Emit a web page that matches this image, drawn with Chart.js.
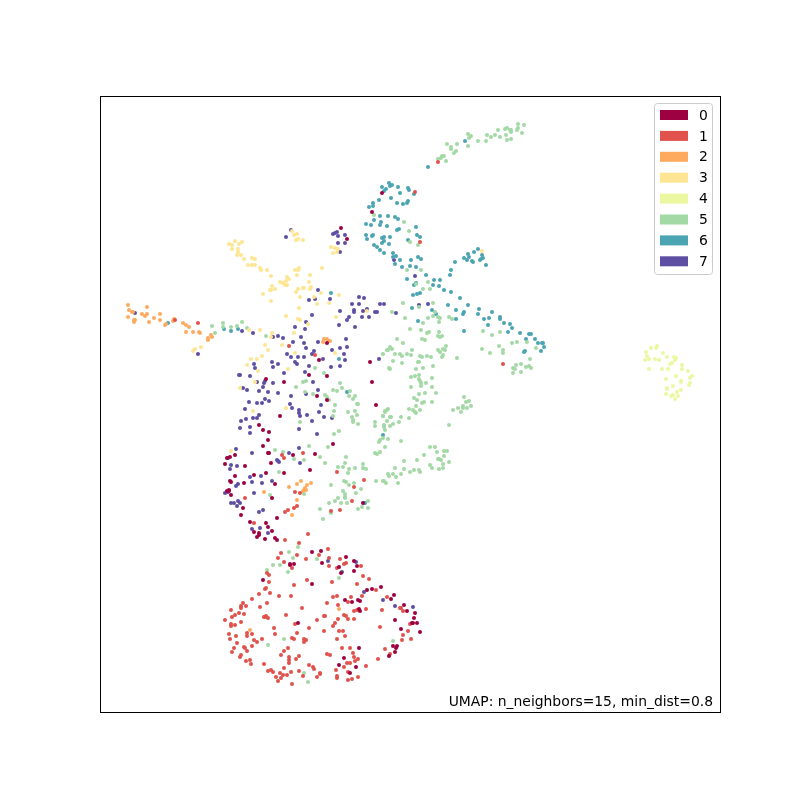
<!DOCTYPE html>
<html>
<head>
<meta charset="utf-8">
<title>UMAP</title>
<script src="https://cdn.jsdelivr.net/npm/chart.js@4"></script>
<style>
  body { margin: 0; background: #fff; }
  canvas { display: block; }
</style>
</head>
<body>
<canvas id="umapChart" width="800" height="800"></canvas>
<script>
// values, in arbitrary embedding units (x 0-620, y 0-616)
const categories = ["0", "1", "2", "3", "4", "5", "6", "7"];
const colors = ["#9e0142", "#e0524b", "#fdaa5f", "#fee593", "#ecf7a2", "#a2d9a4", "#4aa4b2", "#5e4fa2"];
const note = "UMAP: n_neighbors=15, min_dist=0.8";

const cluster0 = [[241,484],[247,473],[282,519],[272,500],[227,369],[219,352],[270,350],[209,337],[227,336],[166,333],[184,330],[272,330],[217,316],[227,312],[276,307],[180,296],[159,287],[163,282],[169,280],[168,272],[163,266],[233,268],[169,259],[168,259],[193,257],[215,258],[135,257],[130,255],[127,254],[125,248],[145,246],[171,249],[166,239],[154,237],[135,236],[184,239],[210,242],[130,231],[131,230],[144,229],[175,228],[129,222],[127,221],[129,221],[131,217],[172,214],[143,204],[141,197],[150,190],[177,194],[166,189],[168,185],[172,181],[154,180],[159,179],[159,177],[157,175],[165,173],[175,174],[177,172],[212,160],[221,161],[246,155],[263,209],[190,148],[194,148],[190,147],[222,149],[163,132],[212,128],[198,89],[254,151],[257,146],[239,145],[241,139],[254,141],[281,125],[272,123],[267,122],[294,117],[291,113],[304,107],[245,112],[252,110],[258,112],[260,111],[259,103],[260,101],[307,101],[315,99],[314,94],[295,92],[312,89],[313,89],[317,89],[301,83],[320,80],[259,64],[293,66],[297,66],[296,64],[295,60],[289,56],[244,54],[239,47],[256,45],[250,39]];

const cluster1 = [[338,550],[315,520],[320,470],[403,348],[75,392],[98,389],[189,366],[215,357],[182,257],[203,259],[184,254],[237,240],[264,232],[254,225],[195,220],[200,219],[145,214],[252,211],[197,206],[194,204],[188,202],[185,200],[240,202],[231,201],[154,189],[208,178],[185,172],[199,169],[181,159],[197,157],[228,163],[219,157],[178,154],[206,153],[229,154],[240,153],[184,150],[192,144],[167,139],[169,137],[169,130],[194,127],[207,132],[166,124],[165,123],[170,119],[159,118],[179,116],[191,116],[152,113],[143,109],[141,106],[167,109],[146,106],[160,105],[202,104],[141,104],[131,102],[139,99],[144,98],[135,97],[132,95],[125,92],[141,90],[164,95],[166,96],[168,94],[165,95],[186,97],[217,92],[224,96],[131,88],[131,86],[135,87],[195,88],[174,84],[209,84],[197,79],[224,81],[147,79],[152,78],[175,78],[129,78],[136,76],[147,76],[130,73],[162,73],[154,72],[157,70],[192,74],[194,73],[204,73],[206,72],[204,70],[137,69],[152,66],[144,65],[145,64],[147,61],[134,64],[132,60],[141,57],[140,55],[188,64],[184,61],[181,57],[199,56],[189,55],[196,53],[189,52],[189,49],[146,51],[150,52],[151,48],[164,48],[209,47],[213,45],[214,43],[184,44],[168,41],[171,42],[173,40],[180,39],[191,40],[199,41],[183,37],[187,37],[176,35],[181,34],[178,31],[203,36],[220,39],[220,38],[217,35],[192,28],[244,148],[246,149],[229,146],[237,144],[261,146],[263,136],[269,133],[232,130],[257,128],[276,122],[262,116],[237,116],[233,115],[251,115],[227,109],[238,107],[287,115],[248,110],[282,102],[300,104],[301,104],[303,101],[254,101],[257,102],[266,103],[244,97],[246,96],[225,96],[238,93],[248,93],[254,93],[235,89],[233,86],[280,85],[310,88],[239,81],[243,81],[308,81],[303,77],[237,73],[245,76],[302,72],[311,73],[242,64],[250,64],[285,63],[227,58],[230,57],[253,59],[254,55],[258,53],[290,58],[278,53],[255,51],[247,49],[250,49],[266,46],[236,42],[244,45],[248,40],[237,36],[237,34],[258,35],[248,32],[252,33]];

const cluster2 = [[28,407],[29,402],[32,400],[33,400],[47,405],[42,398],[47,398],[45,396],[28,395],[35,392],[34,392],[34,390],[49,390],[54,394],[60,398],[60,392],[66,388],[65,387],[73,391],[74,393],[83,389],[86,387],[89,385],[86,380],[93,380],[99,380],[100,379],[111,377],[112,375],[108,374],[108,372],[224,373],[227,373],[223,370],[228,371],[230,371],[201,231],[197,228],[189,225],[211,229],[207,227],[205,224],[203,221],[206,222],[204,222],[164,220],[197,212],[192,197],[150,82],[239,103]];

const cluster3 = [[95,363],[93,361],[101,365],[192,481],[194,477],[197,478],[198,473],[196,472],[203,472],[135,471],[129,468],[132,467],[139,468],[142,470],[132,463],[138,463],[138,460],[137,457],[141,457],[144,453],[152,454],[155,453],[148,447],[152,447],[155,447],[160,444],[161,442],[167,442],[171,436],[195,442],[198,442],[199,444],[197,437],[210,437],[222,444],[187,435],[189,433],[186,431],[180,430],[183,429],[172,426],[185,427],[187,427],[209,430],[211,425],[210,423],[198,423],[203,424],[204,424],[196,420],[175,423],[170,422],[171,422],[163,418],[171,411],[200,415],[214,415],[221,419],[239,417],[217,408],[229,409],[199,404],[186,396],[198,393],[200,392],[236,395],[208,388],[160,382],[172,379],[171,375],[194,379],[165,367],[182,367],[149,382],[231,465],[235,464],[238,463],[233,459],[237,460],[168,362],[162,356],[157,353],[151,353],[147,347],[158,341],[188,343],[195,359],[235,359],[155,330],[140,324],[186,304],[153,301],[131,261],[382,461],[267,401]];

const cluster4 = [[557,366],[556,364],[551,364],[546,360],[547,356],[549,353],[545,352],[549,343],[555,353],[559,352],[563,359],[567,355],[574,355],[576,354],[575,352],[572,349],[570,348],[562,343],[568,343],[582,347],[582,343],[588,341],[592,336],[590,334],[576,336],[566,333],[581,331],[581,330],[590,329],[589,327],[573,326],[567,324],[567,323],[581,322],[577,320],[566,318],[571,316],[573,317],[578,316],[575,313]];

const cluster5 = [[112,386],[115,379],[123,389],[123,385],[131,385],[137,386],[142,390],[147,384],[166,376],[283,358],[287,362],[215,344],[224,339],[203,330],[206,331],[196,325],[205,320],[213,318],[225,317],[227,315],[240,329],[242,324],[233,322],[237,321],[250,321],[249,316],[255,316],[253,313],[257,308],[258,308],[229,312],[235,307],[234,301],[248,300],[255,301],[257,297],[233,296],[252,295],[253,292],[258,288],[253,290],[200,290],[239,281],[234,278],[209,266],[228,265],[275,290],[275,286],[283,296],[285,301],[288,303],[290,295],[284,287],[284,285],[285,282],[290,286],[280,272],[279,270],[285,265],[275,259],[277,258],[280,260],[175,262],[183,260],[220,255],[246,255],[289,344],[194,253],[204,252],[225,249],[245,249],[238,245],[243,245],[249,243],[248,239],[255,244],[263,244],[263,248],[266,243],[179,240],[231,227],[244,231],[246,230],[249,227],[254,229],[276,231],[283,231],[261,223],[256,219],[243,221],[245,218],[245,215],[245,214],[238,214],[235,211],[229,209],[241,209],[247,209],[220,203],[231,199],[223,193],[258,203],[262,205],[268,204],[268,211],[170,217],[204,218],[189,160],[198,165],[193,154],[173,147],[180,147],[167,142],[188,140],[217,153],[184,73],[168,67],[204,39],[208,30],[239,134],[293,71],[274,497],[304,490],[309,481],[310,470],[318,467],[307,442],[321,442],[328,430],[316,428],[323,423],[330,423],[303,409],[319,405],[333,409],[292,400],[305,394],[323,389],[328,394],[333,396],[335,400],[338,395],[340,394],[339,390],[349,395],[352,393],[310,383],[321,382],[329,380],[327,379],[339,380],[338,376],[340,375],[342,376],[297,373],[322,373],[325,372],[303,369],[383,381],[392,377],[400,380],[399,366],[412,369],[417,370],[427,370],[436,364],[382,363],[390,359],[403,362],[403,359],[290,365],[292,363],[288,362],[312,362],[307,358],[311,357],[295,358],[300,358],[302,356],[293,351],[302,349],[290,343],[320,356],[322,355],[327,356],[331,355],[318,350],[319,350],[316,343],[323,344],[333,346],[338,362],[340,360],[343,363],[345,362],[346,366],[342,355],[343,357],[357,354],[430,353],[421,348],[416,347],[413,344],[415,343],[426,345],[429,346],[431,344],[413,339],[421,340],[311,335],[315,336],[319,337],[319,333],[320,331],[321,329],[326,329],[332,334],[321,326],[311,325],[332,325],[325,319],[319,318],[336,319],[314,314],[317,312],[324,310],[322,309],[332,310],[316,306],[309,303],[313,302],[315,300],[316,299],[320,302],[287,302],[285,300],[283,296],[291,295],[301,295],[309,294],[364,315],[366,310],[369,311],[371,306],[358,304],[363,306],[363,304],[367,304],[353,302],[361,300],[287,291],[293,288],[299,290],[288,273],[283,274],[301,271],[349,287],[324,257],[317,252],[304,251],[330,265],[335,265],[337,260],[344,261],[347,261],[344,256],[338,253],[339,253],[341,252],[349,250],[343,248],[330,247],[332,244],[339,243],[343,244],[314,242],[319,242],[320,240],[310,240],[304,243],[295,244],[288,238],[289,236],[293,238],[296,235],[301,238],[284,231],[286,229],[298,229],[418,588],[424,587],[418,584],[417,582],[422,579],[407,584],[405,583],[410,582],[411,582],[411,580],[398,582],[406,577],[400,575],[395,577],[391,575],[387,577],[407,572],[411,573],[386,571],[378,571],[368,578],[371,576],[369,574],[368,566],[357,568],[347,568],[351,565],[351,563],[356,561],[354,559],[344,556],[342,556],[341,554],[338,553],[346,551]];

const cluster6 = [[68,389],[124,383],[131,381],[138,383],[231,419],[239,353],[247,320],[283,277],[264,209],[265,209],[365,571],[328,545],[289,529],[292,527],[290,526],[282,525],[286,523],[284,521],[298,525],[308,524],[309,522],[300,519],[314,518],[291,514],[279,512],[308,511],[307,509],[303,508],[297,509],[273,509],[273,506],[269,505],[280,496],[288,496],[295,495],[298,493],[274,492],[266,488],[271,487],[281,490],[280,487],[287,486],[316,485],[297,482],[299,483],[266,477],[267,473],[272,476],[273,477],[282,474],[284,475],[290,475],[317,477],[320,475],[284,471],[282,469],[289,468],[308,472],[274,467],[277,465],[280,462],[284,459],[293,459],[296,456],[293,455],[300,452],[311,452],[318,455],[321,453],[295,448],[302,445],[310,446],[316,445],[326,437],[307,433],[334,432],[340,432],[333,427],[339,426],[314,427],[316,429],[344,422],[351,420],[313,417],[317,418],[320,419],[360,414],[350,437],[351,442],[355,450],[364,454],[368,458],[369,455],[367,452],[372,451],[373,450],[374,460],[378,463],[380,452],[381,453],[383,454],[382,457],[386,447],[312,404],[348,407],[368,407],[379,403],[356,402],[364,400],[363,398],[378,398],[392,400],[332,402],[336,398],[400,395],[400,393],[389,394],[384,393],[356,393],[318,391],[404,389],[410,388],[388,387],[412,384],[408,380],[420,379],[364,381],[429,378],[431,378],[435,373],[426,373],[438,369],[442,369],[443,369],[444,365],[441,361],[424,360],[425,361]];

const cluster7 = [[35,399],[98,358],[139,337],[191,482],[186,475],[233,478],[235,479],[237,480],[245,477],[238,476],[238,469],[245,469],[240,460],[218,422],[209,412],[215,413],[230,413],[259,415],[252,408],[259,408],[240,401],[254,402],[254,400],[212,397],[249,395],[247,392],[206,390],[239,387],[255,385],[195,385],[205,383],[142,381],[153,379],[178,376],[183,374],[173,375],[201,375],[193,370],[204,369],[206,364],[218,370],[232,362],[240,364],[246,373],[247,365],[244,358],[245,352],[212,358],[214,361],[187,358],[191,355],[198,355],[204,355],[223,353],[172,350],[178,348],[173,345],[154,348],[155,344],[195,350],[197,348],[209,346],[231,345],[240,346],[184,339],[205,340],[213,330],[140,337],[150,336],[157,330],[164,329],[165,331],[173,329],[163,325],[143,324],[147,322],[159,321],[168,320],[178,319],[191,316],[206,318],[218,322],[165,313],[149,310],[157,309],[162,309],[169,311],[190,308],[192,304],[145,303],[221,307],[159,297],[153,294],[157,294],[146,293],[141,291],[199,302],[199,299],[200,296],[207,297],[219,300],[224,295],[232,294],[212,291],[150,285],[140,284],[150,279],[199,283],[217,278],[136,263],[152,259],[199,264],[189,259],[177,252],[279,353],[178,251],[179,250],[200,249],[128,254],[131,247],[137,246],[130,243],[150,235],[161,236],[152,230],[162,229],[172,231],[138,228],[136,226],[154,219],[125,219],[128,220],[131,209],[134,209],[138,211],[140,209],[137,206],[163,202],[159,200],[152,183],[160,184],[168,179],[228,151],[256,150],[242,140],[264,120],[283,112],[295,106],[313,105],[294,452],[315,436],[264,414],[280,408],[284,408],[319,407],[328,408],[267,403],[263,401],[275,400],[277,400],[296,399],[262,395],[269,395]];

const clusters = [cluster0, cluster1, cluster2, cluster3, cluster4, cluster5, cluster6, cluster7];

// frame, legend box and the note in the corner are not something Chart.js gives us
const framePlugin = {
  id: "framePlugin",
  afterDatasetsDraw(chart) {
    const c = chart.ctx;
    const a = chart.chartArea;
    c.save();
    c.strokeStyle = "#000";
    c.lineWidth = 1;
    c.strokeRect(a.left + 0.5, a.top + 0.5, a.right - a.left, a.bottom - a.top);

    // legend
    const boxX = 654.5, boxY = 103.5, boxW = 58, boxH = 171;
    c.beginPath();
    c.roundRect(boxX, boxY, boxW, boxH, 3);
    c.fillStyle = "rgba(255,255,255,0.8)";
    c.fill();
    c.strokeStyle = "#ccc";
    c.stroke();
    c.font = '13.9px "DejaVu Sans"';
    c.textBaseline = "middle";
    categories.forEach((name, i) => {
      const y = 115 + i * 20.9;
      c.fillStyle = colors[i];
      c.fillRect(660, y - 5, 28, 10);
      c.fillStyle = "#000";
      c.fillText(name, 699, y + 1);
    });

    // note
    c.textAlign = "right";
    c.textBaseline = "alphabetic";
    c.fillStyle = "#000";
    c.fillText(note, 713, 706);
    c.restore();
  },
};

const ctx = document.getElementById("umapChart").getContext("2d");
const umapChart = new Chart(ctx, {
  type: "scatter",
  data: {
    datasets: clusters.map((points, i) => ({
      label: categories[i],
      data: points.map((p) => ({ x: p[0], y: p[1] })),
      backgroundColor: colors[i],
      borderWidth: 0,
      pointRadius: 2,
    })),
  },
  options: {
    responsive: false,
    animation: false,
    layout: { padding: { left: 100, top: 96, right: 80, bottom: 88 } },
    plugins: { legend: { display: false }, tooltip: { enabled: false } },
    scales: {
      x: { display: false, min: 0, max: 620 },
      y: { display: false, min: 0, max: 616 },
    },
  },
  plugins: [framePlugin],
});
</script>
</body>
</html>
